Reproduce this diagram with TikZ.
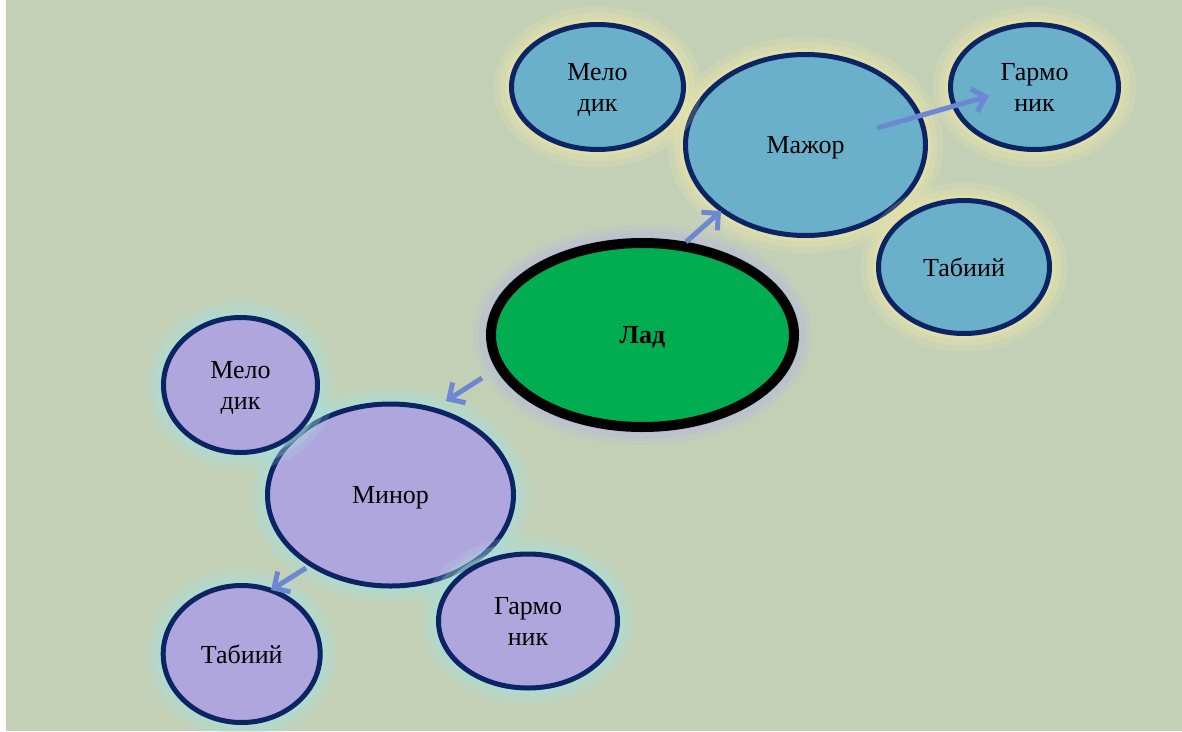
\documentclass[tikz,border=0pt]{standalone}
\usepackage{fontspec}
\setmainfont{Liberation Serif}
\usetikzlibrary{arrows.meta,shapes.geometric}
\definecolor{bgc}{HTML}{C4D0B6}
\definecolor{bluef}{HTML}{6AB0CA}
\definecolor{purpf}{HTML}{B0A6DE}
\definecolor{greenf}{HTML}{00AD50}
\definecolor{navy}{HTML}{0C2464}
\definecolor{arrowc}{HTML}{6E87D2}
\definecolor{glowy}{HTML}{ECE6A8}
\definecolor{glowl}{HTML}{B4B2E6}
\definecolor{glowc}{HTML}{A8E0DC}
\tikzset{
  bubble/.style={ellipse, inner sep=0pt, draw=navy, line width=5pt,
    font=\fontsize{26}{31}\selectfont, align=center, text=black, text depth=0pt},
  glow/.style={
    preaction={draw=#1, fill=none, line width=36pt, draw opacity=0.2},
    preaction={draw=#1, fill=none, line width=24pt, draw opacity=0.28},
    preaction={draw=#1, fill=none, line width=12pt, draw opacity=0.42}},
  bluebub/.style={bubble, fill=bluef, glow=glowy},
  purpbub/.style={bubble, fill=purpf, glow=glowc},
  linkarrow/.style={draw=arrowc, line width=5pt,
    -{Straight Barb[length=12pt, width=24pt, line width=5pt]}}
}
\begin{document}
\begin{tikzpicture}[x=1pt, y=-1pt]
\useasboundingbox (0,0) rectangle (1182,731);
\fill[white] (0,0) rectangle (1182,731);
\fill[bgc] (6,0) rectangle (1182,731);

% central node
\node[ellipse, inner sep=0pt, draw=black, line width=10pt, fill=greenf,
  glow=glowl, minimum width=303pt, minimum height=184pt, text depth=0pt,
  font=\fontsize{26}{31}\selectfont\bfseries] (lad) at (642.5,335) {Лад};

% major group
\node[bluebub, minimum width=240pt, minimum height=181pt] (major) at (805.5,145) {Мажор};
\node[bluebub, minimum width=172pt, minimum height=125pt] (mel1) at (597.5,87) {Мело\\дик};
\node[bluebub, minimum width=168pt, minimum height=125pt] (gar1) at (1034.5,87) {Гармо\\ник};
\node[bluebub, minimum width=171pt, minimum height=133pt] (tab1) at (964,267) {Табиий};

% minor group
\node[purpbub, minimum width=246pt, minimum height=182pt] (minor) at (390.5,495) {Минор};
\node[purpbub, minimum width=154pt, minimum height=135pt] (mel2) at (240.5,385) {Мело\\дик};
\node[purpbub, minimum width=179pt, minimum height=134pt] (gar2) at (528,621) {Гармо\\ник};
\node[purpbub, minimum width=157pt, minimum height=137pt] (tab2) at (241.7,654) {Табиий};

% arrows
\coordinate (a1s) at (686,242); \coordinate (a1e) at (721,211);
\coordinate (a2s) at (877,128); \coordinate (a2e) at (989,96);
\coordinate (a3s) at (482,378); \coordinate (a3e) at (446,401);
\coordinate (a4s) at (306,568); \coordinate (a4e) at (271,590);
\draw[linkarrow] (a1s) -- (a1e);
\draw[linkarrow] (a2s) -- (a2e);
\draw[linkarrow] (a3s) -- (a3e);
\draw[linkarrow] (a4s) -- (a4e);
\end{tikzpicture}
\end{document}
